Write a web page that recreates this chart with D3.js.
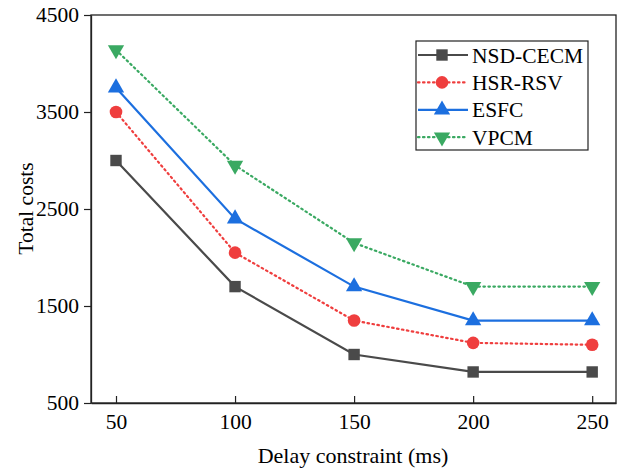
<!DOCTYPE html>
<html>
<head>
<meta charset="utf-8">
<script src="https://cdn.jsdelivr.net/npm/d3@7"></script>
<style>
  body { margin: 0; background: #fff; }
  text { font-family: "Liberation Serif", "Times New Roman", serif; fill: #000; }
</style>
</head>
<body>
<svg id="chart"></svg>
<script>
// Data
const delays = [50, 100, 150, 200, 250];
const nsdCecm = [3000, 1700, 1000, 820, 820];
const hsrRsv = [3500, 2050, 1350, 1120, 1100];
const esfc = [3750, 2400, 1700, 1350, 1350];
const vpcm = [4140, 2950, 2150, 1700, 1700];
const yTicks = [500, 1500, 2500, 3500, 4500];

const series = [
    { name: 'NSD-CECM', values: nsdCecm, color: '#4a4a4a', dash: null, symbol: d3.symbolSquare, size: 130, rot: 0 },
    { name: 'HSR-RSV', values: hsrRsv, color: '#ef3e3e', dash: '1.5,3.5', symbol: d3.symbolCircle, size: 125, rot: 0 },
    { name: 'ESFC', values: esfc, color: '#1c6fdf', dash: null, symbol: d3.symbolTriangle, size: 115, rot: 0 },
    { name: 'VPCM', values: vpcm, color: '#3aa962', dash: '1.5,3.5', symbol: d3.symbolTriangle, size: 115, rot: 180 }
];

const W = 624, H = 468;
const margin = { top: 15, right: 8, bottom: 65, left: 91 };
const width = W - margin.left - margin.right;
const height = H - margin.top - margin.bottom;

const svg = d3.select('#chart').attr('width', W).attr('height', H);
const chart = svg.append('g').attr('transform', `translate(${margin.left},${margin.top})`);

const xScale = d3.scaleLinear().domain([39.5, 260]).range([0, width]);
const yScale = d3.scaleLinear().domain([500, 4500]).range([height, 0]);

// frame
chart.append('rect')
    .attr('width', width).attr('height', height)
    .attr('fill', 'none').attr('stroke', '#222').attr('stroke-width', 1.3);

const xAxis = d3.axisBottom(xScale).tickValues(delays).tickFormat(d3.format('d'))
    .tickSizeInner(-7).tickSizeOuter(0).tickPadding(11);
const yAxis = d3.axisLeft(yScale).tickValues(yTicks).tickFormat(d3.format('d'))
    .tickSizeInner(7).tickSizeOuter(0).tickPadding(5);

const xg = chart.append('g').attr('transform', `translate(0,${height})`).call(xAxis);
const yg = chart.append('g').call(yAxis);
[xg, yg].forEach(g => {
    g.select('.domain').attr('stroke', '#222').attr('stroke-width', 1.3);
    g.selectAll('.tick line').attr('stroke', '#222').attr('stroke-width', 1.2);
    g.selectAll('.tick text').style('font-size', '21.5px').attr('fill', '#000');
});

// axis titles
svg.append('text')
    .attr('x', 353)
    .attr('y', 463)
    .attr('text-anchor', 'middle')
    .style('font-size', '22px')
    .text('Delay constraint (ms)');

svg.append('text')
    .attr('transform', 'rotate(-90)')
    .attr('x', -208.5)
    .attr('y', 33)
    .attr('text-anchor', 'middle')
    .style('font-size', '21.5px')
    .text('Total costs');

const line = d3.line()
    .x((d, i) => xScale(delays[i]))
    .y(d => yScale(d));

series.forEach(s => {
    chart.append('path')
        .datum(s.values)
        .attr('d', line)
        .attr('fill', 'none')
        .attr('stroke', s.color)
        .attr('stroke-width', 2.2)
        .attr('stroke-linecap', s.dash ? 'round' : 'butt')
        .attr('stroke-dasharray', s.dash);

    chart.selectAll(null)
        .data(s.values)
        .join('path')
        .attr('d', d3.symbol().type(s.symbol).size(s.size))
        .attr('transform', (d, i) => `translate(${xScale(delays[i])},${yScale(d)}) rotate(${s.rot})`)
        .attr('fill', s.color);
});

// legend
const legend = svg.append('g').attr('transform', 'translate(416,41)');
legend.append('rect')
    .attr('width', 172).attr('height', 109)
    .attr('fill', '#fff').attr('stroke', '#222').attr('stroke-width', 1.2);

const entry = legend.selectAll('.legend-entry')
    .data(series)
    .join('g')
    .attr('class', 'legend-entry')
    .attr('transform', (d, i) => `translate(0,${14 + i * 27.4})`);

entry.append('line')
    .attr('x1', 2).attr('x2', 52)
    .attr('stroke', d => d.color)
    .attr('stroke-width', 2.2)
    .attr('stroke-linecap', d => d.dash ? 'round' : 'butt')
    .attr('stroke-dasharray', d => d.dash);

entry.append('path')
    .attr('d', d => d3.symbol().type(d.symbol).size(d.size)())
    .attr('transform', d => `translate(26,0) rotate(${d.rot})`)
    .attr('fill', d => d.color);

entry.append('text')
    .attr('x', 56)
    .attr('y', 7.5)
    .style('font-size', '21.5px')
    .text(d => d.name);
</script>
</body>
</html>
